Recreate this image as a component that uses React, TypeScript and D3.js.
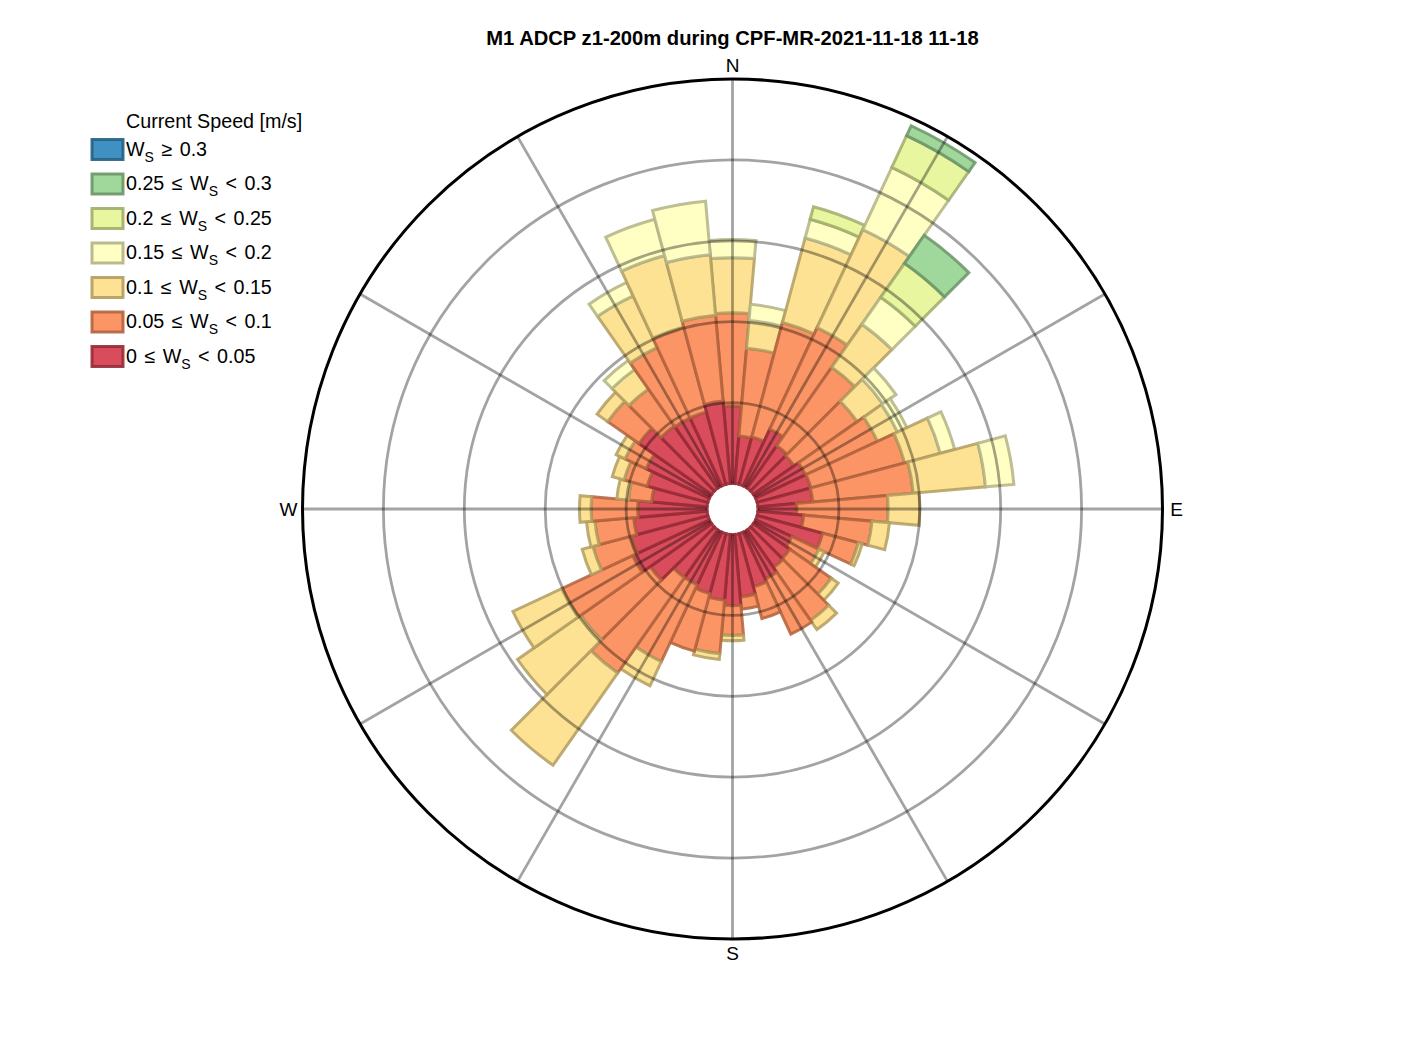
import React, { useRef, useEffect } from "react";
import * as d3 from "d3";

// direction bins (degrees from north, clockwise), 10° wide
const directions = [
  0, 10, 20, 30, 40, 50, 60, 70, 80, 90, 100, 110,
  120, 130, 140, 150, 160, 170, 180, 190, 200, 210, 220, 230,
  240, 250, 260, 270, 280, 290, 300, 310, 320, 330, 340, 350,
];

// frequency (%) per speed class and direction
const ws0to005 = [
  1.2, 0.74, 0.76, 0.97, 0.8, 0.77, 0.85, 0.86, 0.85, 0.6, 0.71, 1.05,
  0.62, 0.69, 0.71, 0.8, 0.85, 0.97, 1.1, 1.02, 0.96, 0.9, 0.9, 1.16,
  1.31, 1.23, 1.14, 1.07, 0.86, 0.97, 1.08, 1.37, 1.17, 1.16, 1.16, 1.28,
];
const ws005to01 = [
  1.44, 1.36, 1.83, 1.73, 1.48, 1.19, 1.23, 1.5, 1.56, 1.41, 1.06, 0.57,
  0.46, 0.78, 1.0, 0.94, 0.51, 0.19, 0.46, 0.83, 0.92, 1.31, 1.8, 1.31,
  1.21, 0.61, 0.6, 0.72, 0.36, 0.37, 0.36, 0.59, 0.7, 1.2, 1.36, 1.33,
];
const ws01to015 = [
  0.85, 0.43, 1.35, 1.67, 0.81, 0.48, 0.34, 0.57, 1.12, 0.49, 0.27, 0.06,
  0.09, 0.13, 0.17, 0, 0, 0, 0.08, 0.09, 0, 0.41, 1.74, 1.19,
  0.83, 0.17, 0.13, 0.18, 0.18, 0.19, 0.15, 0.2, 0.37, 0.88, 1.14, 0.94,
];
const ws015to02 = [
  0.28, 0.25, 0.3, 1.06, 0.51, 0.25, 0.16, 0.23, 0.44, 0, 0, 0,
  0, 0, 0, 0, 0, 0, 0, 0, 0, 0, 0, 0,
  0, 0, 0, 0, 0, 0, 0, 0, 0.17, 0.23, 0.58, 0.83,
];
const ws02to025 = [
  0, 0, 0.2, 0.54, 0.64, 0, 0, 0, 0, 0, 0, 0,
  0, 0, 0, 0, 0, 0, 0, 0, 0, 0, 0, 0,
  0, 0, 0, 0, 0, 0, 0, 0, 0, 0, 0, 0,
];
const ws025to03 = [
  0, 0, 0, 0.17, 0.53, 0, 0, 0, 0, 0, 0, 0,
  0, 0, 0, 0, 0, 0, 0, 0, 0, 0, 0, 0,
  0, 0, 0, 0, 0, 0, 0, 0, 0, 0, 0, 0,
];
const ws03up = [
  0, 0, 0, 0, 0, 0, 0, 0, 0, 0, 0, 0,
  0, 0, 0, 0, 0, 0, 0, 0, 0, 0, 0, 0,
  0, 0, 0, 0, 0, 0, 0, 0, 0, 0, 0, 0,
];

// lowest class first
const speedSeries = [ws0to005, ws005to01, ws01to015, ws015to02, ws02to025, ws025to03, ws03up];
const speedColors = ["#d53e4f", "#fc8d59", "#fee08b", "#ffffbf", "#e6f598", "#99d594", "#3288bd"];
const speedLabels = [
  { pre: "0 \u2264 ", post: " < 0.05" },
  { pre: "0.05 \u2264 ", post: " < 0.1" },
  { pre: "0.1 \u2264 ", post: " < 0.15" },
  { pre: "0.15 \u2264 ", post: " < 0.2" },
  { pre: "0.2 \u2264 ", post: " < 0.25" },
  { pre: "0.25 \u2264 ", post: " < 0.3" },
  { pre: "", post: " \u2265 0.3" },
];

const ringTicks = [1.25, 2.5, 3.75, 5];
const maxFreq = 6.25;
const spokeAngles = [0, 30, 60, 90, 120, 150, 180, 210, 240, 270, 300, 330];
const compass = [
  { label: "N", angle: 0 },
  { label: "E", angle: 90 },
  { label: "S", angle: 180 },
  { label: "W", angle: 270 },
];
const title = "M1 ADCP z1-200m during CPF-MR-2021-11-18 11-18";

export default function App() {
  const ref = useRef<SVGSVGElement>(null);

  useEffect(() => {
    if (!ref.current) return;
    const svg = d3.select(ref.current);
    svg.selectAll("*").remove();

    const font = "'Liberation Sans', Arial, Helvetica, sans-serif";
    const cx = 732.5;
    const cy = 509;
    const binWidth = 10;
    const rScale = d3.scaleLinear().domain([0, maxFreq]).range([25.5, 430]);
    const toRad = (a: number) => (a * Math.PI) / 180;
    const edgeOf = (c: string) => d3.color(c)!.darker(1.0).formatHex();

    const g = svg.append("g").attr("transform", `translate(${cx},${cy})`);

    // stacked segments
    const segs: { dir: number; a: number; b: number; k: number }[] = [];
    directions.forEach((dir, i) => {
      let acc = 0;
      speedSeries.forEach((s, k) => {
        const v = s[i];
        if (v > 0) segs.push({ dir, a: acc, b: acc + v, k });
        acc += v;
      });
    });

    const arc = d3.arc<{ dir: number; a: number; b: number; k: number }>()
      .innerRadius(d => rScale(d.a))
      .outerRadius(d => rScale(d.b))
      .startAngle(d => toRad(d.dir - binWidth / 2))
      .endAngle(d => toRad(d.dir + binWidth / 2));

    g.selectAll("path.seg")
      .data(segs)
      .enter()
      .append("path")
      .attr("class", "seg")
      .attr("d", arc)
      .attr("fill", d => speedColors[d.k])
      .attr("fill-opacity", 0.93)
      .attr("stroke", d => edgeOf(speedColors[d.k]))
      .attr("stroke-opacity", 0.85)
      .attr("stroke-width", 3);

    // grid on top, semi-transparent
    const gridColor = "rgba(0,0,0,0.36)";
    ringTicks.forEach(t => {
      g.append("circle")
        .attr("r", rScale(t))
        .attr("fill", "none")
        .attr("stroke", gridColor)
        .attr("stroke-width", 2.8);
    });
    spokeAngles.forEach(a => {
      const r0 = rScale(0);
      const r1 = rScale(maxFreq);
      g.append("line")
        .attr("x1", r0 * Math.sin(toRad(a)))
        .attr("y1", -r0 * Math.cos(toRad(a)))
        .attr("x2", r1 * Math.sin(toRad(a)))
        .attr("y2", -r1 * Math.cos(toRad(a)))
        .attr("stroke", gridColor)
        .attr("stroke-width", 2.8);
    });

    // outer circle
    g.append("circle")
      .attr("r", rScale(maxFreq))
      .attr("fill", "none")
      .attr("stroke", "#000")
      .attr("stroke-width", 3);

    // compass labels
    compass.forEach(c => {
      const rr = rScale(maxFreq) + 14;
      g.append("text")
        .attr("x", rr * Math.sin(toRad(c.angle)))
        .attr("y", -rr * Math.cos(toRad(c.angle)))
        .attr("text-anchor", "middle")
        .attr("dominant-baseline", "central")
        .style("font-family", font)
        .style("font-size", "19px")
        .attr("fill", "#000")
        .text(c.label);
    });

    // title
    svg.append("text")
      .attr("x", cx)
      .attr("y", 45)
      .attr("text-anchor", "middle")
      .style("font-family", font)
      .style("font-size", "20.2px")
      .style("font-weight", "bold")
      .attr("fill", "#000")
      .text(title);

    // legend
    const lg = svg.append("g");
    lg.append("text")
      .attr("x", 126)
      .attr("y", 128)
      .style("font-family", font)
      .style("font-size", "19.7px")
      .attr("fill", "#000")
      .text("Current Speed [m/s]");

    const order = d3.range(speedSeries.length).reverse();
    order.forEach((k, i) => {
      const y = 139.5 + i * 34.5;
      lg.append("rect")
        .attr("x", 92)
        .attr("y", y)
        .attr("width", 31)
        .attr("height", 20)
        .attr("fill", speedColors[k])
        .attr("fill-opacity", 0.93)
        .attr("stroke", edgeOf(speedColors[k]))
        .attr("stroke-opacity", 0.9)
        .attr("stroke-width", 3);

      const t = lg.append("text")
        .attr("x", 126)
        .attr("y", y + 16)
        .style("font-family", font)
        .style("font-size", "19.7px")
        .style("word-spacing", "2px")
        .attr("fill", "#000");
      const lab = speedLabels[k];
      if (lab.pre) t.append("tspan").text(lab.pre);
      t.append("tspan").text("W");
      t.append("tspan").attr("dy", 6).style("font-size", "14px").text("S");
      t.append("tspan").attr("dy", -6).attr("xml:space", "preserve").text(lab.post);
    });
  }, []);

  return (
    <svg
      ref={ref}
      width={1417}
      height={1055}
      style={{ position: "absolute", left: 0, top: 0, background: "#fff" }}
    />
  );
}
